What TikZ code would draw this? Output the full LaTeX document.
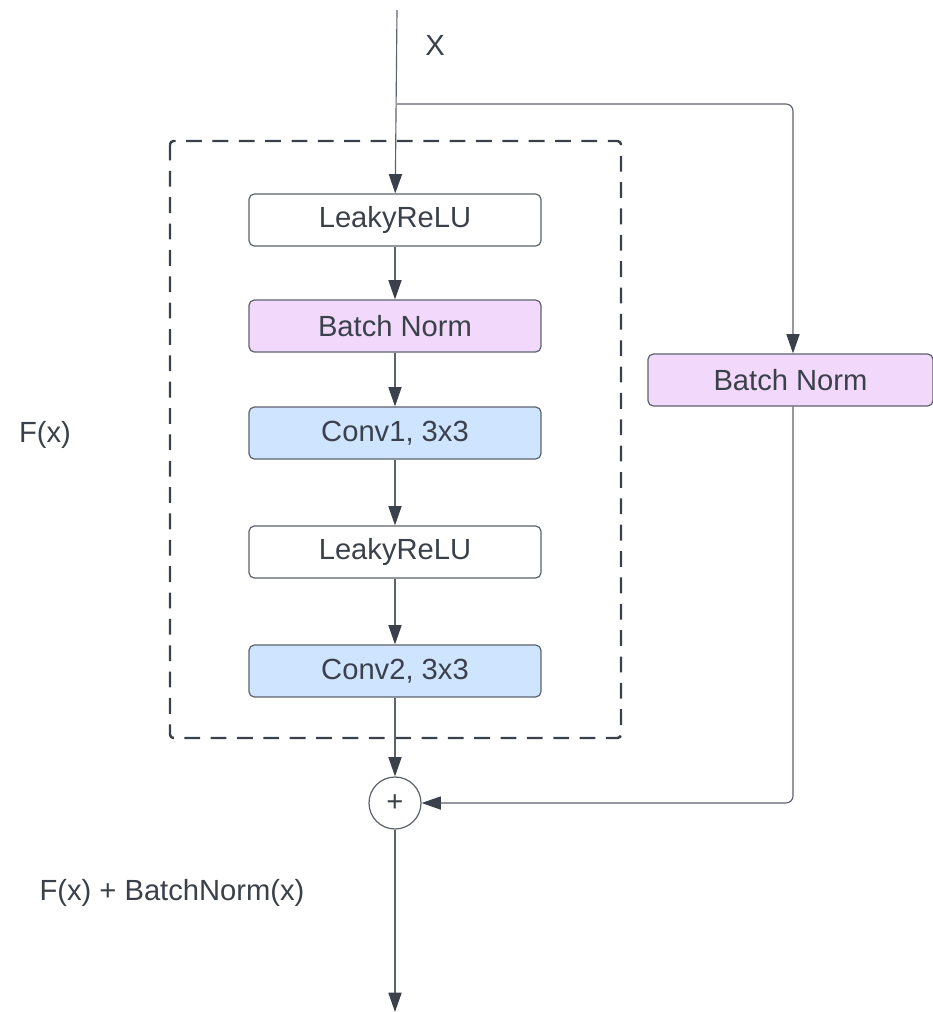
\documentclass[tikz,border=0pt]{standalone}
\usepackage{fontspec}
\setmainfont{Liberation Sans}
\usepackage{xcolor}
\usetikzlibrary{arrows.meta,positioning,calc}

\definecolor{ink}{HTML}{3A414A}
\definecolor{edge}{HTML}{5C636B}
\definecolor{normfill}{HTML}{F2D9FB}
\definecolor{convfill}{HTML}{CFE4FF}

\begin{document}
\begin{tikzpicture}[
  x=0.02cm, y=-0.02cm,
  font=\fontsize{16.6}{19}\selectfont, text=ink,
  layer/.style={draw=edge, line width=0.7pt, rounded corners=3pt, align=center,
    minimum width=5.84cm, minimum height=1.04cm, inner sep=0pt},
  arr/.style={-{Triangle[length=11pt,width=7.5pt,color=ink]}, draw=edge, line width=0.65pt},
  group/.style={draw=ink, line width=1.4pt, dash pattern=on 9pt off 6pt, rounded corners=2pt}
]
  \useasboundingbox (0,0) rectangle (933,1012);

  % main path
  \node[layer, fill=white] (relu1) at (395,220) {LeakyReLU};
  \node[layer, fill=normfill] (bn1) at (395,326) {Batch Norm};
  \node[layer, fill=convfill] (conv1) at (395,433) {Conv1, 3x3};
  \node[layer, fill=white] (relu2) at (395,552) {LeakyReLU};
  \node[layer, fill=convfill] (conv2) at (395,671) {Conv2, 3x3};
  \draw[group] (170,141) rectangle (621,738);

  % shortcut
  \node[layer, fill=normfill, minimum width=5.7cm] (bn2) at (790.5,380) {Batch Norm};

  \node[draw=edge, line width=0.7pt, circle, minimum size=1.04cm, inner sep=0pt] (sum) at (395,803) {+};

  \coordinate (in) at (397,10);
  \coordinate (split) at (397,104);
  \coordinate (out) at (395,1012);

  \node (xlab) at (435,45) {X};
  \node (flab) at (45,435) {F(x)};
  \node (reslab) at (172,893) {F(x) + BatchNorm(x)};

  \draw[arr] (in) -- (relu1);
  \draw[arr] (relu1) -- (bn1);
  \draw[arr] (bn1) -- (conv1);
  \draw[arr] (conv1) -- (relu2);
  \draw[arr] (relu2) -- (conv2);
  \draw[arr] (conv2) -- (sum);
  \draw[arr, rounded corners=4pt] (split) -| ($(bn2.north)+(2.5,0)$);
  \draw[arr, rounded corners=4pt] ($(bn2.south)+(2.5,0)$) |- (sum);
  \draw[arr] (sum) -- (out);
\end{tikzpicture}
\end{document}
